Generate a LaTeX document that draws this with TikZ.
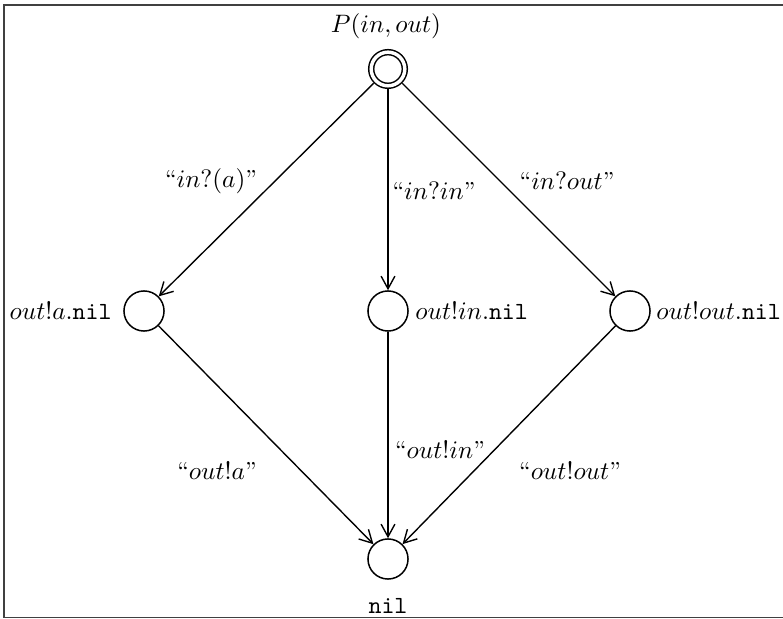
\documentclass[tikz,border=0pt]{standalone}
\usetikzlibrary{arrows.meta}
\begin{document}
\begin{tikzpicture}[x=0.4343pt,y=-0.4343pt,
  font=\fontsize{10.7}{13}\selectfont,
  state/.style={circle,draw,line width=0.65pt,minimum size=17.4pt,inner sep=0pt},
  start/.style={circle,draw,line width=0.65pt,double,double distance=1.5pt,minimum size=14.6pt,inner sep=0pt,outer sep=1.5pt},
  trans/.style={line width=0.6pt,-{Straight Barb[length=5.5pt,width=6pt]}},
  lbl/.style={inner sep=0pt},
  framecol/.style={line width=0.7pt,black!75}]
\useasboundingbox (0,0) rectangle (783,619);
\draw[framecol] (783,5) -- (4,5) -- (4,617.5) -- (783,617.5);

\node[start] (P) at (388,69) {};
\node[state] (L) at (144,311) {};
\node[state] (M) at (388,311) {};
\node[state] (R) at (630,311) {};
\node[state] (B) at (388,559) {};

\node[lbl] (Pl) at (386,26) {$P(in,out)$};
\node[lbl,anchor=east] (Ll) at (112,311) {$out!a.$\texttt{nil}};
\node[lbl,anchor=west] (Ml) at (415,311) {$out!in.$\texttt{nil}};
\node[lbl,anchor=west] (Rl) at (656,311) {$out!out.$\texttt{nil}};
\node[lbl] (Bl) at (388,606) {\texttt{nil}};

\draw[trans] (P) -- (L);
\draw[trans] (P) -- (M);
\draw[trans] (P) -- (R);
\draw[trans] (L) -- (B);
\draw[trans] (M) -- (B);
\draw[trans] (R) -- (B);

\node[lbl] (e1) at (211,181) {``$in?(a)$''};
\node[lbl] (e2) at (434,191) {``$in?in$''};
\node[lbl] (e3) at (567,181) {``$in?out$''};
\node[lbl] (e4) at (217,471) {``$out!a$''};
\node[lbl] (e5) at (440,450) {``$out!in$''};
\node[lbl] (e6) at (570,471) {``$out!out$''};
\end{tikzpicture}
\end{document}
